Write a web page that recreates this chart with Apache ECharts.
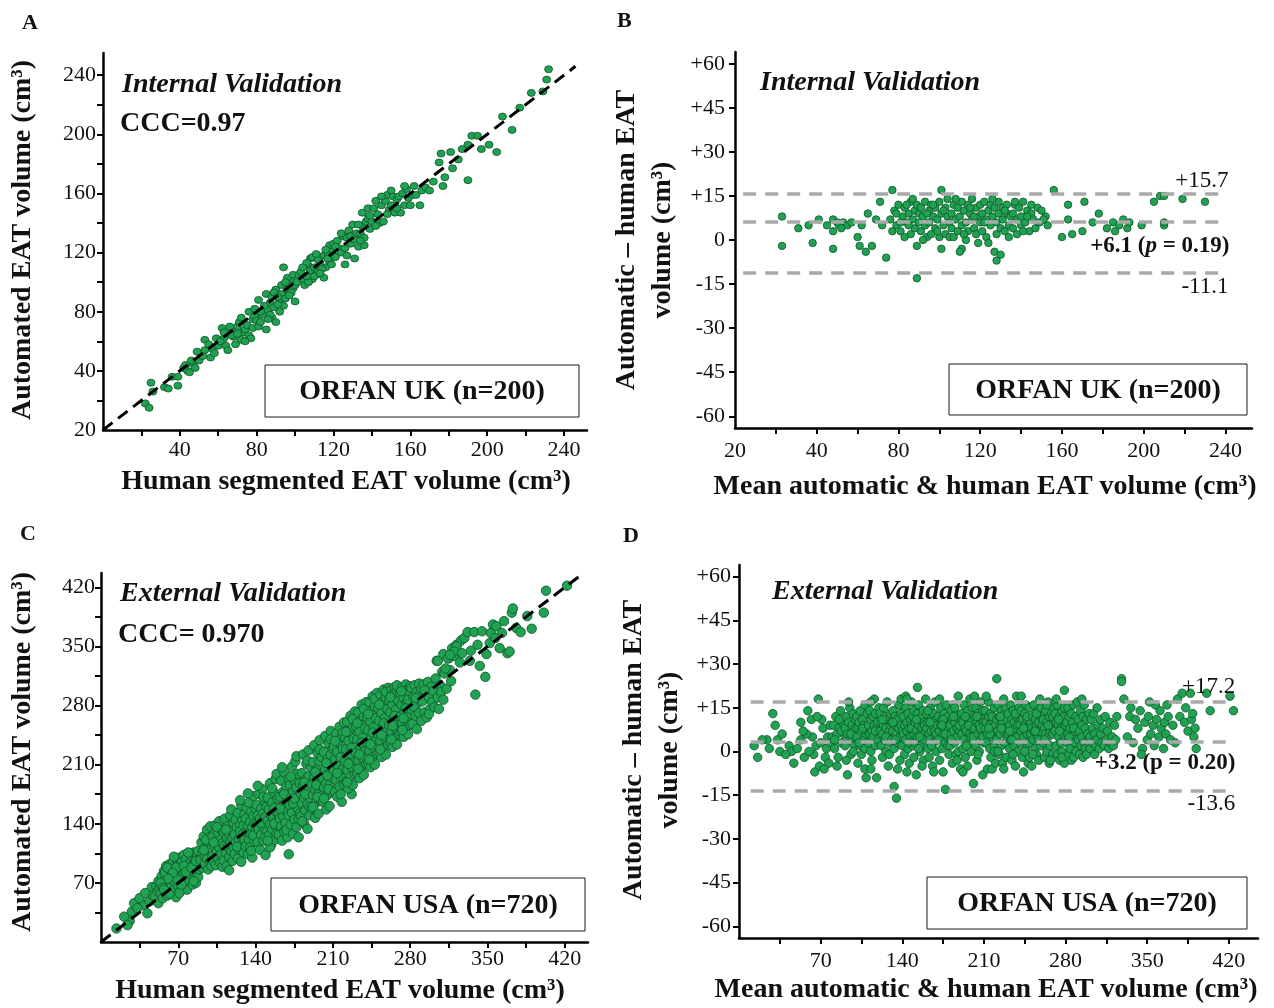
<!DOCTYPE html>
<html>
<head>
<meta charset="utf-8">
<script src="https://cdn.jsdelivr.net/npm/echarts@6/dist/echarts.min.js"></script>
<style>
  html, body { margin: 0; padding: 0; background: #ffffff; }
  #main { width: 1274px; height: 1008px; }
</style>
</head>
<body>
<div id="main"></div>
<script>
// ---------------------------------------------------------------
// Epicardial adipose tissue (EAT) volume: automated vs human segmentation
// ---------------------------------------------------------------

// ORFAN UK internal validation: [human segmented, automated] volume (cm³)
const ukAgreement = [
  [22,18],[24,15],[25,32],[26,26],[32,29],[34,28],[36,36],[39,36],[39,30],[42,42],
  [44,40],[47,45],[48,42],[50,47],[51,51],[53,61],[53,54],[56,49],[57,55],[60,57],[43,44],[46,47],[55,58],[58,52],[45,39],[52,50],[59,62],[49,53],
  [62,69],[63,62],[64,57],[65,54],[67,67],[68,63],[70,70],[72,61],[73,66],[74,68],[76,64],[77,62],[76,80],[78,75],[79,77],[66,70],[69,58],[71,73],[75,71],[61,60],[63,66],[78,69],[80,74],[72,76],[74,60],[67,64],[79,82],[70,65],
  [81,88],[81,70],[82,73],[83,78],[85,68],[86,81],[87,86],[88,76],[89,83],[90,73],[92,88],[92,80],[93,92],[94,110],[94,84],[96,95],[97,99],[98,102],[99,96],[100,87],[84,84],[85,92],[87,78],[88,90],[90,95],[91,85],[93,98],[95,89],[96,103],[98,93],[99,105],[100,98],[82,80],[86,75],[89,93],[91,90],[95,100],[97,91],
  [101,100],[102,105],[103,107],[104,102],[105,98],[107,111],[108,116],[108,108],[109,102],[110,110],[111,105],[112,107],[113,112],[115,118],[116,110],[117,120],[118,114],[119,122],[120,118],[106,113],[107,100],[109,117],[110,104],[112,115],[114,109],[115,103],[117,116],[118,125],[119,112],[104,110],[106,104],[111,119],[113,106],[116,122],[120,126],
  [121,117],[122,128],[123,123],[124,120],[125,131],[126,123],[127,118],[127,130],[128,135],[129,126],[130,139],[131,116],[131,129],[132,133],[133,124],[134,133],[135,147],[135,138],[136,130],[137,141],[138,143],[139,136],[140,141],[121,124],[124,133],[126,112],[129,131],[133,139],[136,125],[138,150],[134,128],[139,145],
  [141,150],[142,155],[143,146],[144,140],[145,152],[146,141],[147,155],[148,159],[149,149],[150,152],[151,158],[152,147],[153,156],[154,158],[155,147],[156,160],[157,152],[158,163],[159,157],[160,152],[142,138],[145,158],[148,146],[150,162],[153,150],[157,165],
  [161,159],[162,165],[163,159],[165,152],[166,162],[168,164],[170,162],[172,168],[175,181],[176,187],[177,165],[178,171],
  [181,188],[182,177],[185,183],[187,190],[190,193],[190,169],[192,199],[195,199],[197,190],[201,193],[205,188],
  [208,212],[213,203],[217,218],[223,228],[229,229],[232,244],[231,237]
];

// ORFAN UK Bland–Altman: [mean of automatic & human, automatic − human] (cm³)
const ukBlandAltman = [
  [23,8],[23,-2],[31,4],[36,5],[38,-1],[41,7],[48,7],[48,3],[48,-3],[50,6],[51,5],[53,6],[55,5],[52,4],[60,1],[61,-2],[62,5],[64,-4],[65,9],[67,-2],[69,7],[71,13],[72,5],[74,-6],[77,17],[57,6],[45,5],
  [89,-13],[89,-2],[101,-3],[111,-3],
  [76,7],[78,10],[79,5],[80,12],[81,3],[82,8],[83,11],[84,6],[85,9],[86,2],[86,13],[87,7],[88,4],[88,10],[89,12],[90,6],[77,3],[79,9],[83,1],[85,5],[87,14],[90,9],[84,12],[81,6],
  [91,3],[91,11],[92,8],[93,5],[93,13],[94,1],[95,10],[95,6],[96,2],[96,12],[97,8],[98,4],[98,11],[99,7],[100,13],[100,1],[101,9],[101,17],[102,5],[103,11],[103,2],[104,8],[104,14],[105,6],[92,0],[94,9],[97,12],[99,3],[102,10],[105,1],
  [106,9],[106,4],[107,12],[107,1],[108,7],[109,11],[109,3],[110,8],[110,-4],[111,13],[111,5],[112,10],[113,6],[113,0],[114,12],[114,3],[115,9],[116,7],[116,14],[117,4],[118,11],[118,2],[119,8],[120,12],[120,6],[108,14],[112,2],[115,11],[117,8],[119,-1],
  [121,9],[121,3],[122,13],[123,7],[123,1],[124,10],[124,-1],[125,5],[125,12],[126,8],[127,-4],[127,11],[128,6],[128,2],[129,13],[129,9],[130,4],[130,-5],[131,11],[131,7],[132,3],[133,12],[133,9],[134,5],[135,8],[122,6],[126,14],[128,-7],[132,10],[134,1],
  [136,9],[136,4],[137,12],[138,7],[138,2],[139,11],[140,8],[140,5],[141,13],[142,6],[143,10],[144,3],[145,9],[146,7],[147,4],[148,11],[149,6],[150,10],[152,8],[153,5],[137,13],[143,8],[145,12],[151,7],[141,3],
  [156,17],[160,1],[163,12],[163,7],[165,2],[170,3],[171,13],[175,6],[178,9],[182,4],[185,6],[188,5],[190,7],[192,4],[193,6],[205,13],[208,15],[210,15],[210,5],[210,6],[219,14],[230,13],[186,3],[199,5]
];

// ORFAN USA external validation: [human segmented, automated] volume (cm³)
const usaAgreement = [
  [14,16],[26,25],[28,36],[30,46],[39,44],[42,34],[46,65],[21,30],[35,52],[44,48],[33,40],[40,58],[47,55],[24,20],
  [49,54],[50,66],[51,60],[52,46],[52,72],[53,63],[54,58],[55,78],[55,67],[56,52],[57,70],[57,84],[58,61],[58,75],[59,66],[59,90],[60,55],[60,73],[61,81],[61,64],[62,70],[62,92],[63,59],[63,77],[64,86],[64,68],[65,74],[65,95],[66,62],[66,80],[67,71],[67,88],[68,53],[68,76],[69,98],[69,84],[70,66],[70,79],[70,92],[71,73],[71,100],[72,85],[72,61],[73,78],[73,94],[74,70],[74,88],[75,103],[75,81],[76,67],[76,92],[77,75],[77,98],[78,84],[78,62],[79,90],[79,77],[80,105],[80,72],[81,86],[81,95],[82,79],[82,101],[83,68],[83,91],[84,84],[84,106],[85,76],[85,97],[86,89],[86,70],[87,102],[87,82],[88,94],[88,77],[89,99],[89,86],[90,91],[90,104],[54,70],[56,64],[58,82],[60,88],[62,57],[64,79],[66,101],[68,88],[71,58],[73,68],[75,90],[77,83],[79,106],[82,88],[84,72],[86,96],[88,108],[69,74],[65,82],[61,75],[57,62],
  [90,97],[91,118],[92,88],[92,106],[93,125],[94,101],[94,92],[95,113],[96,133],[96,99],[97,86],[97,117],[98,108],[98,124],[99,95],[99,137],[100,111],[100,90],[93,109],[95,121],
  [101,102],[101,125],[102,96],[103,138],[103,114],[104,91],[104,119],[105,107],[106,129],[106,99],[107,143],[107,112],[108,94],[108,121],[109,104],[109,133],[110,117],[110,89],[102,118],[105,136],
  [111,97],[111,130],[112,114],[112,146],[113,106],[114,124],[114,90],[115,137],[115,113],[116,101],[116,128],[117,150],[117,119],[118,108],[118,134],[119,96],[119,123],[120,141],[120,112],[113,133],[116,85],[118,157],
  [121,127],[121,104],[122,145],[122,118],[123,136],[124,99],[124,153],[125,122],[125,110],[126,139],[126,131],[127,95],[127,162],[128,116],[128,144],[129,128],[129,106],[130,151],[130,121],[123,113],[126,168],[129,138],
  [131,113],[131,146],[132,131],[132,159],[133,104],[133,138],[134,121],[134,165],[135,142],[135,112],[136,128],[136,154],[137,100],[137,136],[138,149],[138,173],[139,119],[139,140],[140,131],[140,158],[133,176],[136,108],[138,126],
  [141,139],[141,162],[142,118],[142,150],[143,175],[143,133],[144,146],[144,109],[145,158],[145,127],[146,181],[146,140],[147,152],[147,120],[148,167],[148,135],[149,103],[149,148],[150,160],[150,130],[142,185],[145,141],[147,172],[149,124],
  [151,144],[151,171],[152,126],[152,157],[153,188],[153,139],[154,150],[154,115],[155,165],[155,134],[156,178],[156,147],[157,121],[157,159],[158,193],[158,137],[159,154],[159,128],[160,170],[160,143],[153,112],[155,182],[157,140],[159,199],[151,120],
  [161,153],[161,127],[162,172],[162,146],[163,191],[163,137],[164,160],[164,120],[165,178],[165,149],[166,131],[166,201],[167,163],[167,141],[168,184],[168,155],[169,124],[169,170],[170,150],[170,194],[162,158],[164,207],[166,175],[168,133],[170,104],
  [171,162],[171,186],[172,139],[172,171],[173,208],[173,153],[174,178],[174,128],[175,191],[175,145],[176,165],[176,214],[177,136],[177,183],[178,158],[178,199],[179,173],[179,124],[180,188],[180,152],[172,196],[174,164],[177,220],[179,145],[175,170],
  [181,176],[181,149],[182,200],[182,164],[183,222],[183,185],[184,140],[184,171],[185,192],[185,156],[186,211],[186,178],[187,134],[187,163],[188,196],[188,227],[189,150],[189,182],[190,170],[190,207],[182,143],[185,175],[187,215],[189,160],[184,189],
  [191,186],[191,158],[192,213],[192,174],[193,233],[193,195],[194,147],[194,180],[195,204],[195,165],[196,224],[196,189],[197,152],[197,176],[198,214],[198,239],[199,168],[199,198],[200,184],[200,219],[192,160],[194,201],[196,172],[198,228],[195,186],
  [201,194],[201,166],[202,225],[202,183],[203,244],[203,205],[204,157],[204,188],[205,216],[205,174],[206,235],[206,199],[207,161],[207,186],[208,222],[208,250],[209,178],[209,208],[210,194],[210,229],[202,170],[204,212],[206,181],[208,240],[205,197],
  [211,203],[211,232],[212,178],[212,216],[213,247],[213,192],[214,225],[214,172],[215,237],[215,208],[216,184],[216,255],[217,219],[217,196],[218,243],[218,166],[219,229],[219,205],[220,260],[220,187],[212,238],[214,200],[217,175],[219,248],[227,175],
  [221,214],[221,242],[222,190],[222,228],[223,261],[223,204],[224,238],[224,182],[225,250],[225,219],[226,196],[226,268],[227,230],[227,207],[228,254],[228,186],[229,241],[229,216],[230,273],[230,199],[222,249],[224,211],[226,223],[228,264],[223,189],
  [231,224],[231,255],[232,200],[232,240],[233,272],[233,215],[234,249],[234,194],[235,262],[235,231],[236,207],[236,281],[237,242],[237,218],[238,267],[238,198],[239,253],[239,228],[240,284],[240,211],[232,259],[234,222],[236,236],[238,276],[233,205],
  [241,236],[241,266],[242,212],[242,251],[243,284],[243,227],[244,261],[244,207],[245,273],[245,242],[246,219],[246,291],[247,254],[247,230],[248,279],[248,210],[249,265],[249,240],[250,295],[250,223],[242,270],[244,234],[246,248],[248,288],[243,216],
  [251,246],[251,277],[252,224],[252,262],[253,293],[253,238],[254,271],[254,219],[255,284],[255,253],[256,230],[256,299],[257,265],[257,242],[258,289],[258,222],[259,276],[259,250],[260,301],[260,234],[252,281],[254,245],[256,259],[258,296],[253,228],
  [261,257],[261,286],[262,236],[262,272],[263,299],[263,249],[264,281],[264,231],[265,294],[265,263],[266,242],[266,302],[267,275],[267,253],[268,297],[268,234],[269,286],[269,261],[270,300],[270,246],[262,290],[264,256],[266,268],[268,304],[263,240],
  [271,267],[271,294],[272,248],[272,281],[273,302],[273,259],[274,289],[274,243],[275,299],[275,272],[276,254],[276,305],[277,284],[277,263],[278,300],[278,246],[279,293],[279,270],[280,303],[280,257],[272,297],[274,265],[276,277],[278,287],[273,251],
  [281,276],[281,301],[282,258],[283,290],[284,304],[285,268],[286,296],[286,252],[287,283],[288,306],[288,271],[289,294],[290,262],[290,300],[283,279],[285,289],
  [291,285],[292,305],[293,272],[294,296],[295,266],[296,308],[297,289],[298,276],[299,302],[300,284],[293,298],[297,270],
  [301,297],[302,278],[303,312],[304,333],[305,290],[306,276],[307,304],[308,296],[309,320],[310,287],[311,318],[313,300],[315,336],[317,309],[319,341],[316,322],
  [305,333],[310,341],[314,336],[318,348],[322,352],[326,357],[329,360],[320,339],
  [322,350],[320,344],[325,331],[332,367],[334,333],[338,367],[339,293],[341,352],[345,368],[348,314],[349,341],[352,354],[353,366],[355,376],[358,374],[361,348],[363,366],[368,342],[370,344],[372,390],[373,395],[376,372],[380,367],[386,386],[390,371],[401,390],[403,416],[422,422],[335,345],[343,327],[357,360],[365,380],[312,324],[316,340],[327,342]
];

// ORFAN USA Bland–Altman: [mean of automatic & human, automatic − human] (cm³)
const usaBlandAltman = [
  [13,2],[16,-2],[24,4],[29,13],[31,9],[33,4],[35,0],[43,2],[45,0],[47,-4],[53,10],[53,4],[59,14],[62,11],[63,5],[64,-1],[65,-7],[68,18],[66,2],[70,3],[72,8],[74,-2],[76,5],[78,9],[50,1],[56,-2],[58,6],[60,0],[71,11],[75,1],[77,-4],[69,-5],[40,-1],[37,6],[26,1],[20,4],[55,7],[67,12],[73,-6],[79,3],
  [80,5],[81,9],[82,1],[83,12],[84,6],[85,-2],[86,8],[87,14],[88,3],[89,10],[90,6],[84,-5],[86,11],[88,7],[82,4],
  [91,8],[91,2],[92,12],[93,-8],[93,6],[94,10],[95,4],[95,15],[96,-1],[97,9],[97,5],[98,13],[99,2],[99,7],[100,11],[92,-3],[94,17],[96,6],[98,0],[100,8],
  [101,5],[101,12],[102,8],[102,-4],[103,10],[104,2],[104,14],[105,7],[105,-1],[106,11],[107,4],[107,9],[108,16],[108,1],[109,6],[109,-9],[110,13],[110,7],[103,3],[106,8],[108,-6],
  [111,9],[111,3],[112,14],[112,6],[113,0],[113,11],[114,7],[114,-3],[115,12],[115,5],[116,18],[116,9],[117,2],[117,13],[118,-9],[118,8],[119,4],[119,10],[120,15],[120,6],[113,-6],[117,7],[113,17],
  [121,7],[121,13],[122,2],[122,10],[123,-2],[123,6],[124,15],[124,9],[125,4],[125,12],[126,0],[126,8],[127,17],[127,5],[128,11],[128,-5],[129,7],[129,3],[130,13],[130,9],[123,11],[126,5],[129,-1],
  [131,10],[131,4],[132,7],[132,14],[133,-12],[133,1],[134,9],[134,12],[135,-16],[135,6],[136,3],[136,11],[137,16],[137,8],[138,-3],[138,5],[139,13],[139,9],[140,2],[140,7],[132,10],[136,-6],[139,18],[134,4],
  [141,6],[141,12],[142,9],[142,-1],[143,15],[143,4],[144,10],[144,7],[145,1],[145,13],[146,8],[146,-4],[147,11],[147,5],[148,17],[148,9],[149,2],[149,12],[150,6],[150,-2],[143,19],[146,3],[148,8],[150,14],[144,-7],[144,18],
  [151,10],[151,3],[152,-8],[152,7],[153,13],[153,5],[154,9],[154,16],[155,0],[155,11],[156,6],[156,2],[157,12],[157,8],[158,-3],[158,14],[159,4],[159,10],[160,18],[160,7],[152,11],[155,5],[157,-5],[159,9],[154,1],[153,22],
  [161,8],[161,13],[162,1],[162,10],[163,6],[163,-2],[164,15],[164,4],[165,11],[165,7],[166,-5],[166,9],[167,13],[167,3],[168,7],[168,17],[169,0],[169,11],[170,5],[170,9],[162,14],[165,2],[167,-7],[169,6],[164,10],
  [171,12],[171,4],[172,7],[172,-3],[173,15],[173,9],[174,1],[174,11],[175,-7],[175,6],[176,13],[176,8],[177,-13],[177,3],[178,10],[178,16],[179,5],[179,12],[180,-1],[180,8],[172,18],[175,11],[177,6],[179,2],[174,9],
  [181,9],[181,2],[182,14],[182,6],[183,-4],[183,11],[184,7],[184,16],[185,3],[185,10],[186,-1],[186,13],[187,8],[187,5],[188,19],[188,0],[189,12],[189,7],[190,-6],[190,10],[182,4],[185,15],[187,-3],[189,9],[184,12],
  [191,6],[191,13],[192,10],[192,1],[193,16],[193,4],[194,8],[194,-2],[195,12],[195,7],[196,-5],[196,14],[197,3],[197,10],[198,18],[198,6],[199,0],[199,11],[200,8],[200,15],[192,-7],[195,2],[197,9],[199,5],[194,12],
  [201,5],[201,-11],[202,12],[202,8],[203,2],[203,15],[204,-3],[204,10],[205,6],[205,13],[206,0],[206,9],[207,17],[207,4],[208,11],[208,7],[209,-8],[209,14],[210,3],[210,10],[202,19],[205,-1],[207,8],[209,5],[204,12],
  [211,8],[211,14],[212,3],[212,10],[213,-6],[213,6],[214,12],[214,17],[215,1],[215,9],[216,-2],[216,13],[217,-6],[217,5],[218,11],[218,7],[219,15],[219,2],[220,9],[220,-4],[212,19],[215,6],[217,12],[219,0],[214,8],[221,25],
  [221,11],[221,4],[222,7],[222,16],[223,-1],[223,12],[224,6],[224,9],[225,14],[225,2],[226,-4],[226,10],[227,18],[227,7],[228,3],[228,13],[229,8],[229,-2],[230,11],[230,5],[222,0],[225,8],[227,-6],[229,15],[224,12],
  [231,6],[231,13],[232,9],[232,1],[233,16],[233,4],[234,11],[234,-3],[235,7],[235,14],[236,2],[236,10],[237,-5],[237,8],[238,12],[238,19],[239,5],[239,0],[240,10],[240,15],[232,7],[235,-1],[237,13],[239,9],[234,4],
  [241,9],[241,3],[242,14],[242,7],[243,-2],[243,11],[244,-7],[244,5],[245,13],[245,9],[246,1],[246,16],[247,6],[247,11],[248,-4],[248,8],[249,15],[249,3],[250,10],[250,6],[242,19],[245,0],[247,12],[249,-2],[244,8],
  [251,-5],[251,8],[252,12],[252,4],[253,16],[253,7],[254,1],[254,11],[255,9],[255,-1],[256,14],[256,5],[257,-3],[257,10],[258,7],[258,18],[259,2],[259,12],[260,6],[260,9],[252,-1],[255,13],[257,4],[259,15],[254,7],
  [261,11],[261,3],[262,-2],[262,8],[263,14],[263,6],[264,0],[264,10],[265,17],[265,5],[266,12],[266,-4],[267,7],[267,2],[268,13],[268,9],[269,-1],[269,6],[270,15],[270,10],[262,4],[265,9],[267,-3],[269,12],[264,16],
  [271,7],[271,13],[272,2],[272,10],[273,-1],[273,16],[274,5],[274,9],[275,12],[275,-3],[276,8],[276,3],[277,14],[277,0],[278,10],[278,6],[279,-4],[279,12],[280,4],[280,9],[272,18],[275,7],[277,-2],[279,15],[274,11],[279,21],
  [281,10],[281,3],[282,15],[282,6],[283,-1],[283,12],[284,8],[284,1],[285,13],[285,-3],[286,5],[286,10],[287,-2],[287,16],[288,7],[288,3],[289,12],[289,0],[290,9],[290,17],[283,5],[287,8],
  [291,4],[291,11],[292,7],[292,-1],[293,14],[293,2],[294,9],[294,5],[295,-2],[295,12],[296,3],[296,16],[297,8],[297,1],[298,-1],[298,11],[299,6],[300,13],[300,3],[294,18],
  [301,5],[301,1],[302,11],[303,3],[303,8],[304,13],[305,-1],[305,6],[306,2],[307,15],[307,4],[308,9],[309,1],[310,6],[310,11],[311,3],[312,8],[313,2],[314,12],[315,4],[316,7],[317,1],[318,10],[319,3],[320,5],[321,2],[322,9],[323,4],[324,12],
  [328,25],[328,24],[330,18],[333,5],[335,12],[338,3],[340,11],[342,8],[344,14],[346,1],[348,10],[350,4],[351,12],[353,6],[355,9],[356,2],[358,11],[360,5],[361,14],[362,8],[364,1],[365,10],[366,6],[368,12],[370,4],[372,9],[374,3],[376,18],[378,12],[380,20],[382,10],[383,15],[385,7],[387,20],[388,11],[389,13],[390,5],[391,8],[392,1],[401,20],[404,14],[421,19],[424,14],[357,16],[345,-1],[367,16],[352,17],[336,15]
];

// Limits of agreement: [upper, mean bias, lower] and the bias p-value
const ukLimits = [15.7, 6.1, -11.1];
const ukBiasP = '0.19';
const usaLimits = [17.2, 3.2, -13.6];
const usaBiasP = '0.20';

// Axis ticks and tick labels
const ukVolTicks = [20, 40, 60, 80, 100, 120, 140, 160, 180, 200, 220, 240];
const ukVolLabels = [40, 80, 120, 160, 200, 240];
const usaVolTicks = [35, 70, 105, 140, 175, 210, 245, 280, 315, 350, 385, 420];
const usaVolLabels = [70, 140, 210, 280, 350, 420];
const diffTicks = [-60, -45, -30, -15, 0, 15, 30, 45, 60];
const originLabel = '20';

// ---------------------------------------------------------------
const SERIF = '"Liberation Serif", "Times New Roman", Times, serif';
const INK = '#111111';
const DOT = '#21a152';
const DOT_EDGE = '#0c552a';

function valueAxis(gridIndex, min, max, ticks, labels, fmt, margin) {
  return {
    type: 'value', gridIndex: gridIndex, min: min, max: max,
    axisLine: { show: true, onZero: false, lineStyle: { color: '#000', width: 2.5 } },
    axisTick: { show: true, customValues: ticks, length: 6, lineStyle: { color: '#000', width: 2 } },
    axisLabel: {
      customValues: labels, formatter: fmt, margin: margin,
      color: INK, fontFamily: SERIF, fontSize: 22
    },
    splitLine: { show: false }
  };
}

const signed = v => (v > 0 ? '+' : '') + v;
const signed1 = v => (v > 0 ? '+' : '') + v.toFixed(1);

// Dashed limits of agreement; their labels come from a second copy with
// invisible lines, drawn above the points
function limitLines(limits, p, italicP, x0, x1, gaps, withLabels) {
  const base = { color: INK, fontFamily: SERIF, fontSize: 23, opacity: 1 };
  const pKey = italicP ? 'i' : 'b';
  const lab = (cfg) => (withLabels ? Object.assign({ show: true }, cfg) : { show: false });
  return {
    silent: true, animation: false,
    symbol: ['none', 'none'],
    label: { show: false },
    lineStyle: withLabels
      ? { color: 'rgba(255,255,255,0)', width: 1, type: 'solid' }
      : { color: '#a9a9a9', width: 3.5, type: [13, 9] },
    emphasis: { disabled: true },
    data: [
      [{ coord: [x0, limits[0]], label: lab(Object.assign({ position: 'insideEndTop', distance: gaps[0], formatter: signed1(limits[0]) }, base)) },
       { coord: [x1, limits[0]] }],
      [{ coord: [x0, limits[1]], label: lab({
          position: 'insideEndBottom', distance: gaps[1], opacity: 1,
          formatter: '{b|' + signed1(limits[1]) + ' (}{' + pKey + '|p}{b| = ' + p + ')}',
          rich: {
            b: Object.assign({ fontWeight: 'bold' }, base),
            i: Object.assign({ fontWeight: 'bold', fontStyle: 'italic' }, base)
          } }) },
       { coord: [x1, limits[1]] }],
      [{ coord: [x0, limits[2]], label: lab(Object.assign({ position: 'insideEndBottom', distance: gaps[2], formatter: signed1(limits[2]) }, base)) },
       { coord: [x1, limits[2]] }]
    ]
  };
}

function scatter(idx, data, size) {
  return {
    type: 'scatter', xAxisIndex: idx, yAxisIndex: idx, data: data, z: 3,
    symbol: 'circle', symbolSize: size,
    itemStyle: { color: DOT, borderColor: DOT_EDGE, borderWidth: 0.8, opacity: 1 },
    emphasis: { disabled: true }
  };
}

function identity(idx, upTo) {
  return {
    type: 'line', xAxisIndex: idx, yAxisIndex: idx, z: 4,
    data: [[0, 0], [upTo, upTo]], symbol: 'none', silent: true,
    lineStyle: { color: '#000', width: 3, type: [12, 7] }
  };
}

function limitSeries(idx, limits, p, italicP, x0, x1, gaps, withLabels) {
  return {
    type: 'line', xAxisIndex: idx, yAxisIndex: idx, data: [], silent: true,
    z: withLabels ? 6 : 1,
    markLine: limitLines(limits, p, italicP, x0, x1, gaps, withLabels)
  };
}

function text(x, y, str, size, weight, style, align, rotation) {
  return {
    type: 'text', x: x, y: y, rotation: rotation || 0, silent: true,
    style: {
      text: str, fill: INK,
      font: (style || 'normal') + ' ' + (weight || 'normal') + ' ' + size + 'px ' + SERIF,
      textAlign: align || 'left', textVerticalAlign: 'middle',
      align: align || 'left', verticalAlign: 'middle'
    }
  };
}

function box(x, y, w, h, label) {
  return [
    { type: 'rect', silent: true, shape: { x: x, y: y, width: w, height: h },
      style: { fill: '#fff', stroke: '#1a1a1a', lineWidth: 1 }, z: 10 },
    Object.assign(text(x + w / 2, y + h / 2 + 1, label, 28, 'bold', 'normal', 'center'), { z: 11 })
  ];
}

const V = Math.PI / 2;
const volTitle = 'Human segmented EAT volume (cm³)';
const autoTitle = 'Automated EAT volume (cm³)';
const meanTitle = 'Mean automatic & human EAT volume (cm³)';

const ukGaps = [[-3, 1], [-4, 12], [-3, 3]];
const usaGaps = [[-3, 3], [-3, 9], [-3, 1]];

const option = {
  backgroundColor: '#ffffff',
  animation: false,
  grid: [
    { left: 103, top: 53, width: 484, height: 377, containLabel: false, outerBoundsMode: 'none' },
    { left: 735, top: 52, width: 517, height: 376, containLabel: false, outerBoundsMode: 'none' },
    { left: 101, top: 573, width: 487, height: 369, containLabel: false, outerBoundsMode: 'none' },
    { left: 739, top: 565, width: 519, height: 373, containLabel: false, outerBoundsMode: 'none' }
  ],
  xAxis: [
    valueAxis(0, 0, 252, ukVolTicks, ukVolLabels, v => String(v), 9),
    valueAxis(1, 0, 253, ukVolTicks, [0].concat(ukVolLabels), v => (v === 0 ? originLabel : String(v)), 12),
    valueAxis(2, 0, 441, usaVolTicks, usaVolLabels, v => String(v), 6),
    valueAxis(3, 0, 445, usaVolTicks, usaVolLabels, v => String(v), 12)
  ],
  yAxis: [
    valueAxis(0, 0, 255, ukVolTicks, [0].concat(ukVolLabels), v => (v === 0 ? originLabel : String(v)), 7),
    valueAxis(1, -64, 64, diffTicks, diffTicks, signed, 10),
    valueAxis(2, 0, 437, usaVolTicks, usaVolLabels, v => String(v), 6),
    valueAxis(3, -64, 64, diffTicks, diffTicks, signed, 8)
  ],
  series: [
    scatter(0, ukAgreement, [8, 7]),
    identity(0, 246),
    limitSeries(1, ukLimits, ukBiasP, true, 4, 240, ukGaps, false),
    scatter(1, ukBlandAltman, 7.5),
    limitSeries(1, ukLimits, ukBiasP, true, 4, 240, ukGaps, true),
    scatter(2, usaAgreement, 9.5),
    identity(2, 437),
    limitSeries(3, usaLimits, usaBiasP, false, 10, 423, usaGaps, false),
    scatter(3, usaBlandAltman, 8.5),
    limitSeries(3, usaLimits, usaBiasP, false, 10, 423, usaGaps, true)
  ],
  graphic: {
    elements: [
      // panel A
      text(22, 23, 'A', 22, 'bold'),
      text(122, 85, 'Internal Validation', 28, 'bold', 'italic'),
      text(120, 124, 'CCC=0.97', 28, 'bold'),
      ...box(265, 365, 314, 52, 'ORFAN UK (n=200)'),
      text(346, 482, volTitle, 28, 'bold', 'normal', 'center'),
      text(23, 240, autoTitle, 28, 'bold', 'normal', 'center', V),
      // panel B
      text(617, 21, 'B', 22, 'bold'),
      text(760, 83, 'Internal Validation', 28, 'bold', 'italic'),
      ...box(949, 364, 298, 51, 'ORFAN UK (n=200)'),
      text(985, 487, meanTitle, 28, 'bold', 'normal', 'center'),
      text(627, 240, 'Automatic – human EAT', 28, 'bold', 'normal', 'center', V),
      text(663, 240, 'volume (cm³)', 28, 'bold', 'normal', 'center', V),
      // panel C
      text(20, 534, 'C', 22, 'bold'),
      text(120, 594, 'External Validation', 28, 'bold', 'italic'),
      text(118, 635, 'CCC= 0.970', 28, 'bold'),
      ...box(271, 878, 314, 53, 'ORFAN USA (n=720)'),
      text(340, 991, volTitle, 28, 'bold', 'normal', 'center'),
      text(23, 752, autoTitle, 28, 'bold', 'normal', 'center', V),
      // panel D
      text(623, 536, 'D', 22, 'bold'),
      text(772, 592, 'External Validation', 28, 'bold', 'italic'),
      ...box(927, 877, 320, 52, 'ORFAN USA (n=720)'),
      text(986, 990, meanTitle, 28, 'bold', 'normal', 'center'),
      text(634, 750, 'Automatic – human EAT', 28, 'bold', 'normal', 'center', V),
      text(670, 750, 'volume (cm³)', 28, 'bold', 'normal', 'center', V)
    ]
  }
};

const chart = echarts.init(document.getElementById('main'), null, { renderer: 'canvas' });
chart.setOption(option);
</script>
</body>
</html>
